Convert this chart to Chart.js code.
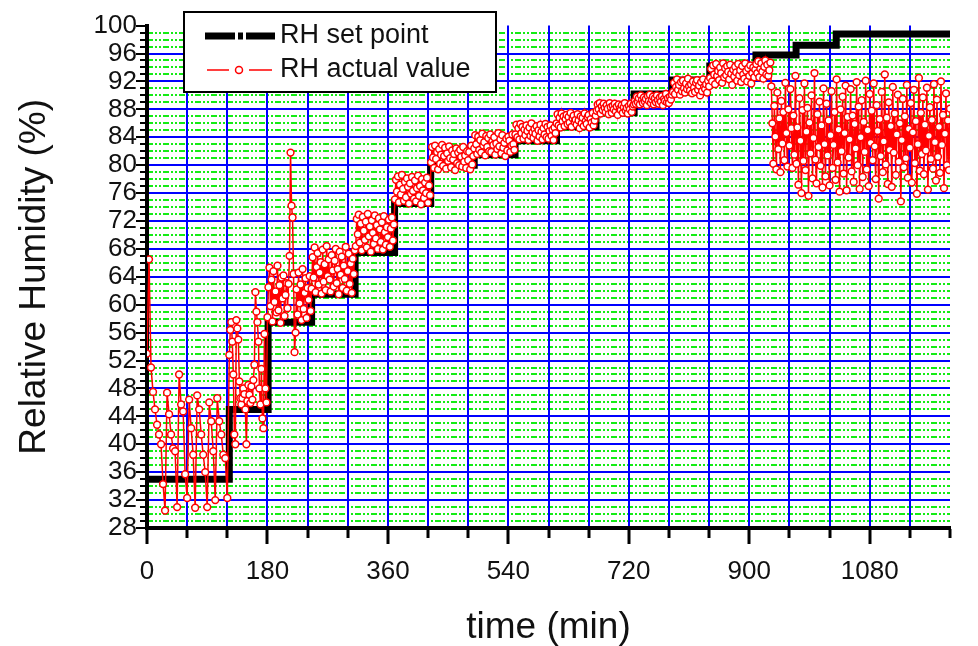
<!DOCTYPE html>
<html>
<head>
<meta charset="utf-8">
<title>Relative Humidity</title>
<script src="https://cdn.jsdelivr.net/npm/chart.js@4.4.1/dist/chart.umd.min.js"></script>
<style>
  html, body { margin: 0; padding: 0; background: #fff; }
</style>
</head>
<body>
<canvas id="chart" width="978" height="646"></canvas>
<script>
// set point steps: level starts at the given time (min)
const setPointTimes = [0, 123, 181, 246, 311, 370, 424, 489, 550, 612, 671, 728, 785, 841, 910, 970, 1030, 1200];
const setPointValues = [35, 45, 57.5, 61.5, 67.5, 74.5, 80, 81.5, 83.5, 85.5, 87.5, 90.2, 92.2, 94.2, 95.8, 97.2, 98.8, 98.8];

// measured RH, 0 - 120 min, one sample every 3 min
const START_STEP = 3;
const actualStart = [
  53, 66.5, 51, 47.5, 45, 42.8, 41.4, 40, 34.3, 30.5, 47.4, 44.3, 41.4, 39.4, 39, 31, 50, 45.7, 44.7, 35.7,
  32.3, 46.4, 42.3, 38.5, 30.9, 47, 45, 41.4, 38.5, 36, 31, 46, 43.3, 39, 32, 46.6, 43.3, 41.4, 38.5, 38, 32.3
];

// measured RH from 123 min on, one sample every 1.5 min
const MAIN_START = 123;
const MAIN_STEP = 1.5;
// 123 - 931.5 min, one row group per set point step
const actualRamp = [
  // 45 %
  52.8, 56.4, 57.5, 54.7, 50.0, 41.4, 40.0, 57.8, 56.6, 55.0,
  49.0, 46.6, 45.7, 46.6, 48.0, 47.2, 45.0, 40.0, 46.2, 48.5,
  47.1, 45.9, 48.3, 46.4, 49.2, 51.4, 61.8, 59.0, 57.5, 54.7,
  48.0, 45.7, 50.8, 43.7, 42.3, 55.8, 48.0, 46.0,
  // 57.5 %
  58.2, 62.5, 65.3, 59.8, 63.6, 57.6, 64.8, 60.4, 61.9, 58.9,
  65.6, 59.2, 62.8, 57.4, 63.9, 60.9, 64.2, 58.4, 61.4, 63.1,
  59.5, 63.0, 67.0, 81.8, 74.2, 72.5, 64.4, 53.2, 56.0, 62.2,
  58.6, 64.6, 60.2, 62.9, 57.8, 65.1, 59.4, 61.7, 63.8, 58.1,
  62.4, 60.7, 64.1, 59.1,
  // 61.5 %
  62.3, 66.8, 63.9, 68.2, 61.8, 65.4, 67.4, 62.9, 64.6, 66.1,
  61.6, 67.9, 63.3, 65.8, 62.1, 68.4, 64.1, 66.5, 63.6, 61.9,
  67.1, 64.9, 62.6, 66.3, 68.0, 63.1, 65.1, 61.5, 67.6, 64.3,
  66.9, 62.4, 65.6, 63.7, 68.3, 62.0, 64.8, 67.3, 63.0, 65.9,
  61.7, 66.6, 64.4, 67.8,
  // 67.5 %
  68.4, 72.3, 70.1, 72.9, 68.9, 71.6, 67.8, 72.6, 70.6, 69.3,
  71.9, 68.2, 73.0, 69.8, 71.2, 67.6, 72.1, 70.3, 68.7, 72.8,
  69.5, 71.4, 68.0, 72.4, 70.8, 69.0, 71.8, 67.9, 72.7, 70.4,
  68.6, 71.1, 69.7, 72.2, 68.3, 70.9, 72.5, 69.2, 71.5,
  // 74.5 %
  75.1, 77.9, 76.2, 78.4, 74.7, 77.2, 75.8, 78.6, 76.6, 74.9,
  77.6, 75.4, 78.1, 76.9, 74.5, 77.4, 75.9, 78.3, 76.3, 75.2,
  77.8, 74.8, 76.7, 78.5, 75.6, 77.0, 74.4, 78.0, 76.4, 75.3,
  77.5, 76.0, 78.2, 74.6, 77.1, 75.7,
  // 80 %
  80.4, 82.6, 81.1, 79.6, 82.8, 80.9, 81.9, 79.4, 82.3, 80.2,
  81.5, 82.9, 79.9, 81.3, 82.5, 79.5, 81.7, 80.6, 82.7, 81.0,
  79.7, 82.1, 80.8, 81.6, 79.3, 82.4, 80.3, 81.8, 80.0, 82.2,
  81.2, 79.8, 82.6, 80.5, 81.4, 79.6, 82.0, 80.7, 81.9, 79.4,
  82.8, 80.1, 81.3,
  // 81.5 %
  82.4, 84.3, 83.0, 81.6, 84.1, 82.2, 83.6, 81.8, 84.5, 82.8,
  83.3, 81.4, 84.2, 82.6, 83.9, 82.0, 84.4, 81.9, 83.4, 82.9,
  84.0, 81.5, 83.1, 82.3, 84.6, 82.7, 83.7, 81.7, 84.3, 82.5,
  83.2, 81.3, 83.8, 82.1, 84.1, 83.5, 81.9, 82.8, 84.4, 83.0,
  82.2,
  // 83.5 %
  84.4, 85.8, 84.0, 85.3, 83.7, 85.9, 84.6, 85.5, 83.8, 85.1,
  84.3, 85.7, 84.9, 83.6, 85.4, 84.2, 86.0, 84.7, 83.9, 85.2,
  84.5, 85.6, 83.5, 85.0, 84.1, 85.8, 84.8, 83.7, 85.3, 84.4,
  85.9, 84.0, 85.5, 83.8, 84.9, 85.7, 84.2, 85.1, 83.6, 85.4,
  84.6,
  // 85.5 %
  86.0, 87.3, 85.7, 86.8, 85.4, 87.4, 86.3, 87.0, 85.6, 86.6,
  87.2, 85.9, 86.9, 86.1, 87.5, 85.5, 86.7, 87.1, 86.2, 86.5,
  85.8, 87.3, 86.4, 85.3, 87.0, 86.0, 86.8, 85.6, 87.4, 86.3,
  85.9, 86.9, 87.2, 85.4, 86.6, 86.1, 87.5, 85.7, 86.4, 87.1,
  // 87.5 %
  87.8, 88.7, 88.0, 88.9, 87.4, 88.4, 87.9, 88.8, 88.2, 87.6,
  88.6, 88.1, 87.3, 88.9, 88.3, 87.5, 88.5, 88.0, 88.8, 87.7,
  88.4, 87.2, 88.7, 88.1, 87.9, 88.6, 87.5, 88.3, 88.9, 87.8,
  88.2, 87.4, 88.5, 88.0, 88.8, 87.6, 88.4, 88.7,
  // 90 %
  89.2, 88.8, 89.8, 89.0, 89.6, 88.7, 90.0, 89.3, 88.9, 89.7,
  89.1, 89.5, 88.6, 89.9, 89.2, 90.1, 88.9, 89.4, 89.8, 88.7,
  89.6, 89.0, 90.0, 89.3, 88.8, 89.7, 89.1, 89.9, 88.6, 89.5,
  89.2, 90.2, 89.0, 89.6, 88.9, 89.8, 89.4, 90.1,
  // 92 %
  90.5, 91.8, 90.2, 91.2, 92.3, 90.8, 91.5, 90.1, 91.9, 90.6,
  92.1, 91.0, 90.4, 91.7, 90.9, 92.4, 91.3, 90.7, 91.6, 90.3,
  92.0, 91.1, 90.5, 91.8, 92.2, 90.8, 91.4, 90.0, 91.9, 90.6,
  92.3, 91.2, 90.9, 91.6, 90.4, 92.1, 91.3,
  // 94 %
  92.5, 93.8, 92.0, 94.3, 93.0, 91.6, 94.5, 92.8, 93.5, 92.2,
  94.0, 93.2, 91.8, 94.6, 92.6, 93.9, 92.9, 94.2, 93.4, 92.3,
  94.4, 93.1, 91.5, 93.7, 92.7, 94.1, 93.3, 92.1, 94.5, 92.9,
  93.6, 91.9, 94.2, 93.0, 92.4, 94.6, 93.5, 92.0, 93.9, 92.8,
  94.3, 91.7, 93.2, 94.0, 92.6, 93.7,
  // 96 %
  94.5, 93.2, 94.9, 92.6, 93.8, 94.6, 93.4, 92.4, 94.1, 95.0,
  93.0, 94.4, 92.8, 93.6, 94.7
];
// 933 - 1200 min, unstable control
const actualEnd = [
  91.3, 86.0, 80.2, 88.5, 84.1, 79.4, 90.4, 82.3, 86.7, 79.0,
  89.2, 83.1, 87.6, 80.7, 91.8, 84.6, 79.8, 88.0, 82.8, 90.9,
  85.3, 79.6, 87.1, 81.5, 92.8, 80.2, 85.4, 77.2, 89.6, 83.5,
  76.0, 87.9, 80.6, 91.7, 79.3, 84.8, 88.2, 75.6, 86.1, 81.7,
  90.0, 78.1, 83.9, 93.2, 80.8, 77.4, 87.3, 82.6, 89.1, 79.9,
  85.7, 76.8, 91.0, 83.0, 78.4, 88.8, 81.4, 86.4, 77.1, 84.3,
  90.6, 79.6, 82.9, 87.6, 77.9, 92.3, 80.4, 85.1, 76.2, 88.0,
  82.0, 89.8, 78.8, 84.6, 91.4, 76.4, 86.9, 81.1, 83.7, 90.9,
  79.1, 87.1, 77.6, 85.9, 82.4, 91.9, 80.0, 88.4, 76.6, 84.0,
  89.3, 78.3, 86.2, 81.9, 92.1, 79.4, 85.0, 77.0, 90.2, 83.2,
  87.8, 80.7, 91.7, 82.7, 78.0, 88.6, 84.9, 75.2, 86.6, 81.3,
  90.5, 79.0, 83.4, 93.0, 80.1, 86.8, 77.3, 89.0, 82.2, 85.6,
  76.9, 91.2, 81.8, 87.4, 78.6, 84.4, 90.1, 80.5, 86.0, 74.8,
  83.6, 89.5, 79.7, 87.0, 81.0, 91.5, 78.2, 85.2, 82.5, 88.9,
  77.5, 84.7, 90.8, 80.3, 86.3, 75.9, 83.0, 92.5, 79.2, 87.5,
  81.6, 89.7, 78.7, 85.8, 82.1, 91.1, 76.5, 84.2, 88.3, 80.9,
  86.5, 79.5, 91.6, 83.3, 77.8, 89.4, 81.2, 85.5, 78.9, 92.0,
  82.9, 87.2, 76.7, 84.5, 90.3, 80.0, 86.4, 79.3, 88.1
];

const X_MIN = 0, X_MAX = 1200, X_STEP = 60, X_LABEL_STEP = 180;
const Y_MIN = 28, Y_MAX = 100, Y_STEP = 4;

const FONT = '"Liberation Sans", Arial, Helvetica, sans-serif';
const BLUE = '#0000ff';
const GREEN = '#14ec14';
const NONE = 'rgba(0,0,0,0)';

const setPointData = setPointTimes.map((t, i) => ({ x: t, y: setPointValues[i] }));
const actualData = actualStart
  .map((v, i) => ({ x: i * START_STEP, y: v }))
  .concat(actualRamp.concat(actualEnd).map((v, i) => ({ x: MAIN_START + i * MAIN_STEP, y: v })));

// green dash-dot minor grid (under everything), axis ticks and the boxed legend (on top)
const paperGrid = {
  id: 'paperGrid',
  beforeDraw(chart) {
    const { ctx, chartArea: a, scales: { y } } = chart;
    ctx.save();
    ctx.strokeStyle = GREEN;
    ctx.lineWidth = 2;
    ctx.setLineDash([6, 2, 2, 2, 2, 2]);
    for (let v = y.min + 1; v < y.max; v++) {
      if (v % Y_STEP === 0) continue;
      const py = Math.round(y.getPixelForValue(v));
      ctx.beginPath();
      ctx.moveTo(a.left, py);
      ctx.lineTo(a.right, py);
      ctx.stroke();
    }
    ctx.restore();
  },
  afterDraw(chart) {
    const { ctx, chartArea: a, scales: { x, y } } = chart;
    ctx.save();
    ctx.strokeStyle = '#000';
    // y ticks, every 1 %, longer every 4 %
    ctx.lineWidth = 2;
    for (let v = y.min; v <= y.max; v++) {
      const py = Math.round(y.getPixelForValue(v));
      const len = v % Y_STEP === 0 ? 9 : 5;
      ctx.beginPath();
      ctx.moveTo(a.left - 1, py);
      ctx.lineTo(a.left - 2 - len, py);
      ctx.stroke();
    }
    // x ticks, every 60 min, longer every 180 min
    ctx.lineWidth = 3;
    for (let t = x.min; t <= x.max; t += X_STEP) {
      const px = Math.round(x.getPixelForValue(t));
      const len = t % X_LABEL_STEP === 0 ? 14 : 8;
      ctx.beginPath();
      ctx.moveTo(px, a.bottom + 1);
      ctx.lineTo(px, a.bottom + 2 + len);
      ctx.stroke();
    }

    // legend
    const [sp, act] = chart.data.datasets;
    const bx = 184, by = 12, bw = 312, bh = 80;
    ctx.fillStyle = '#fff';
    ctx.fillRect(bx, by, bw, bh);
    ctx.lineWidth = 2;
    ctx.strokeRect(bx, by, bw, bh);

    ctx.lineWidth = 7;
    ctx.strokeStyle = '#000';
    ctx.beginPath();
    ctx.moveTo(205, 36); ctx.lineTo(235, 36);
    ctx.moveTo(238, 36); ctx.lineTo(243, 36);
    ctx.moveTo(246, 36); ctx.lineTo(275, 36);
    ctx.stroke();

    ctx.lineWidth = 1.5;
    ctx.strokeStyle = '#ff0000';
    ctx.beginPath();
    ctx.moveTo(207, 70); ctx.lineTo(229, 70);
    ctx.moveTo(249, 70); ctx.lineTo(272, 70);
    ctx.stroke();
    ctx.beginPath();
    ctx.arc(239, 70, 3.5, 0, Math.PI * 2);
    ctx.fillStyle = '#fff';
    ctx.fill();
    ctx.stroke();

    ctx.fillStyle = '#111';
    ctx.font = '27px ' + FONT;
    ctx.textBaseline = 'middle';
    ctx.textAlign = 'left';
    ctx.fillText(sp.label, 280, 36);
    ctx.fillText(act.label, 280, 70);
    ctx.restore();
  }
};

new Chart(document.getElementById('chart'), {
  type: 'line',
  data: {
    datasets: [
      {
        label: 'RH set point',
        data: setPointData,
        stepped: true,
        borderColor: '#000',
        borderWidth: 7,
        pointRadius: 0,
        order: 2,
      },
      {
        label: 'RH actual value',
        data: actualData,
        borderColor: '#ff0000',
        borderWidth: 1.5,
        pointRadius: 3.4,
        pointBorderWidth: 1.5,
        pointBorderColor: '#ff0000',
        pointBackgroundColor: '#ffffff',
        order: 1,
      },
    ],
  },
  options: {
    responsive: false,
    animation: false,
    layout: { padding: { left: 0, right: 20, top: 23, bottom: 0 } },
    plugins: {
      legend: { display: false },
      tooltip: { enabled: false },
    },
    scales: {
      x: {
        type: 'linear',
        min: X_MIN,
        max: X_MAX,
        afterFit: (s) => { s.height = 118; },
        ticks: {
          stepSize: X_STEP,
          autoSkip: false,
          maxRotation: 0,
          padding: 28,
          color: '#111',
          font: { family: FONT, size: 26 },
          callback: (v) => (v % X_LABEL_STEP === 0 ? v : ''),
        },
        grid: {
          drawTicks: false,
          lineWidth: 2,
          color: (c) => (c.tick && (c.tick.value === X_MIN || c.tick.value === X_MAX) ? NONE : BLUE),
        },
        border: { display: true, color: '#000', width: 4 },
        title: {
          display: true,
          text: 'time (min)',
          color: '#111',
          font: { family: FONT, size: 37, lineHeight: 1 },
          padding: { top: 0, bottom: 0 },
        },
      },
      y: {
        min: Y_MIN,
        max: Y_MAX,
        afterFit: (s) => { s.width = 147; },
        ticks: {
          stepSize: Y_STEP,
          autoSkip: false,
          padding: 10,
          color: '#111',
          font: { family: FONT, size: 26 },
        },
        grid: {
          drawTicks: false,
          lineWidth: 2,
          color: (c) => (c.tick && (c.tick.value === Y_MIN || c.tick.value === Y_MAX) ? NONE : BLUE),
        },
        border: { display: true, color: '#000', width: 4 },
        title: {
          display: true,
          text: 'Relative Humidity (%)',
          color: '#111',
          font: { family: FONT, size: 37, lineHeight: 1 },
          padding: { top: 16, bottom: 0 },
        },
      },
    },
  },
  plugins: [paperGrid],
});
</script>
</body>
</html>
